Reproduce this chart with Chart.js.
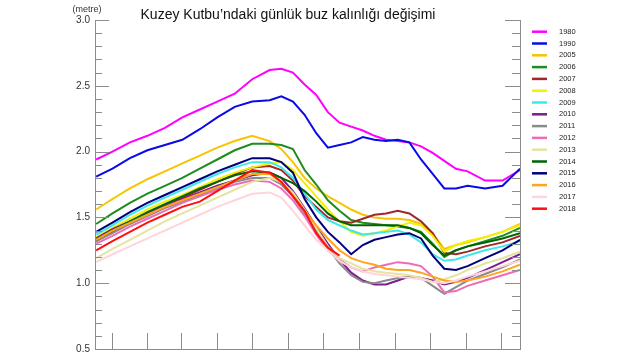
<!DOCTYPE html>
<html>
<head>
    <meta charset="utf-8">
    <title>Kuzey Kutbu’ndaki günlük buz kalınlığı değişimi</title>
    <script src="https://cdn.jsdelivr.net/npm/chart.js"></script>
    <style>
        html, body {
            margin: 0;
            padding: 0;
            background-color: #ffffff;
        }
        #wrap {
            position: relative;
            width: 640px;
            height: 360px;
        }
    </style>
</head>
<body>
    <div id="wrap">
        <canvas id="iceChart" width="640" height="360"></canvas>
    </div>
    <script>
        // day of year for each sample
        const days = [1, 15, 30, 45, 60, 75, 90, 105, 120, 135, 150, 160, 170, 180, 190, 200, 210, 220, 230, 240, 250, 260, 270, 280, 290, 300, 310, 320, 335, 350, 365];
        // mid-month tick positions on the x axis
        const monthTicks = [15, 45, 74, 105, 135, 166, 196, 227, 258, 288, 319, 349];

        const years = ["1980", "1990", "2005", "2006", "2007", "2008", "2009", "2010", "2011", "2012", "2013", "2014", "2015", "2016", "2017", "2018"];
        const colors = ["#ff00ff", "#0a0ae6", "#f7c400", "#1e8c1e", "#a3262a", "#f2f200", "#3ee8e8", "#7a1e8e", "#8a8a8a", "#f06ab6", "#e4e4a2", "#006400", "#00007c", "#ffa41e", "#ffd4da", "#ff1010"];

        // ice thickness (metre)
        const ice1980 = [1.94, 2.00, 2.07, 2.12, 2.18, 2.26, 2.32, 2.38, 2.44, 2.55, 2.62, 2.63, 2.60, 2.51, 2.43, 2.30, 2.22, 2.19, 2.16, 2.12, 2.09, 2.08, 2.07, 2.04, 1.99, 1.93, 1.87, 1.85, 1.78, 1.78, 1.86];
        const ice1990 = [1.81, 1.87, 1.95, 2.01, 2.05, 2.09, 2.17, 2.26, 2.34, 2.38, 2.39, 2.42, 2.38, 2.28, 2.14, 2.03, 2.05, 2.07, 2.11, 2.09, 2.08, 2.09, 2.07, 1.94, 1.83, 1.72, 1.72, 1.74, 1.72, 1.74, 1.87];
        const ice2005 = [1.56, 1.64, 1.72, 1.79, 1.85, 1.91, 1.97, 2.03, 2.08, 2.12, 2.08, 2.02, 1.92, 1.80, 1.72, 1.66, 1.61, 1.56, 1.52, 1.50, 1.49, 1.49, 1.48, 1.45, 1.38, 1.26, 1.29, 1.31, 1.35, 1.39, 1.45];
        const ice2006 = [1.45, 1.53, 1.61, 1.68, 1.74, 1.80, 1.87, 1.94, 2.01, 2.06, 2.06, 2.05, 2.02, 1.86, 1.75, 1.63, 1.55, 1.48, 1.46, 1.45, 1.44, 1.43, 1.42, 1.39, 1.30, 1.20, 1.25, 1.28, 1.32, 1.36, 1.42];
        const ice2007 = [1.32, 1.39, 1.46, 1.53, 1.59, 1.65, 1.71, 1.77, 1.83, 1.88, 1.89, 1.86, 1.78, 1.66, 1.58, 1.50, 1.47, 1.46, 1.49, 1.52, 1.53, 1.55, 1.53, 1.47, 1.38, 1.23, 1.22, 1.24, 1.28, 1.31, 1.36];
        const ice2008 = [1.35, 1.42, 1.49, 1.56, 1.62, 1.67, 1.73, 1.79, 1.84, 1.88, 1.91, 1.92, 1.86, 1.76, 1.66, 1.56, 1.47, 1.39, 1.36, 1.38, 1.40, 1.43, 1.46, 1.44, 1.36, 1.24, 1.29, 1.32, 1.35, 1.39, 1.44];
        const ice2009 = [1.37, 1.44, 1.52, 1.59, 1.65, 1.71, 1.77, 1.83, 1.88, 1.92, 1.92, 1.88, 1.80, 1.68, 1.56, 1.48, 1.44, 1.40, 1.37, 1.38, 1.39, 1.40, 1.37, 1.31, 1.22, 1.17, 1.18, 1.21, 1.25, 1.28, 1.32];
        const ice2010 = [1.34, 1.41, 1.47, 1.53, 1.59, 1.64, 1.69, 1.74, 1.78, 1.82, 1.84, 1.80, 1.70, 1.57, 1.43, 1.30, 1.18, 1.08, 1.02, 0.99, 0.99, 1.02, 1.05, 1.04, 1.02, 0.99, 1.01, 1.04, 1.10, 1.16, 1.22];
        const ice2011 = [1.32, 1.38, 1.45, 1.51, 1.57, 1.62, 1.67, 1.72, 1.77, 1.80, 1.80, 1.75, 1.66, 1.53, 1.40, 1.27, 1.15, 1.06, 1.01, 1.00, 1.02, 1.04, 1.05, 1.04, 0.98, 0.92, 0.97, 1.02, 1.07, 1.12, 1.18];
        const ice2012 = [1.30, 1.36, 1.43, 1.49, 1.55, 1.61, 1.66, 1.71, 1.75, 1.78, 1.77, 1.72, 1.63, 1.51, 1.37, 1.25, 1.18, 1.12, 1.09, 1.12, 1.14, 1.16, 1.15, 1.13, 1.05, 0.93, 0.94, 0.98, 1.02, 1.06, 1.10];
        const ice2013 = [1.19, 1.26, 1.33, 1.40, 1.47, 1.53, 1.59, 1.65, 1.71, 1.77, 1.80, 1.77, 1.69, 1.56, 1.42, 1.28, 1.19, 1.15, 1.11, 1.09, 1.08, 1.07, 1.06, 1.04, 1.01, 1.03, 1.06, 1.10, 1.15, 1.19, 1.24];
        const ice2014 = [1.33, 1.40, 1.47, 1.54, 1.60, 1.66, 1.72, 1.77, 1.82, 1.85, 1.84, 1.80, 1.76, 1.70, 1.62, 1.53, 1.47, 1.44, 1.44, 1.44, 1.44, 1.44, 1.42, 1.38, 1.29, 1.21, 1.25, 1.28, 1.31, 1.34, 1.38];
        const ice2015 = [1.39, 1.46, 1.54, 1.61, 1.67, 1.73, 1.79, 1.85, 1.90, 1.95, 1.95, 1.92, 1.84, 1.64, 1.50, 1.39, 1.31, 1.22, 1.29, 1.33, 1.35, 1.37, 1.38, 1.34, 1.21, 1.11, 1.10, 1.13, 1.19, 1.25, 1.33];
        const ice2016 = [1.33, 1.40, 1.46, 1.52, 1.58, 1.63, 1.68, 1.73, 1.78, 1.83, 1.83, 1.77, 1.67, 1.55, 1.44, 1.34, 1.25, 1.19, 1.16, 1.14, 1.11, 1.10, 1.10, 1.08, 1.05, 1.02, 1.01, 1.02, 1.05, 1.09, 1.14];
        const ice2017 = [1.16, 1.22, 1.28, 1.34, 1.40, 1.46, 1.52, 1.58, 1.63, 1.68, 1.69, 1.65, 1.55, 1.44, 1.33, 1.25, 1.17, 1.12, 1.09, 1.07, 1.06, 1.05, 1.04, 1.03, 1.01, 1.00, 1.02, 1.05, 1.09, 1.13, 1.17];
        const ice2018 = [1.25, 1.32, 1.39, 1.46, 1.52, 1.58, 1.62, 1.70, 1.78, 1.86, 1.84, 1.77, 1.66, 1.55, 1.38, 1.27, 1.21];

        const series = [ice1980, ice1990, ice2005, ice2006, ice2007, ice2008, ice2009, ice2010, ice2011, ice2012, ice2013, ice2014, ice2015, ice2016, ice2017, ice2018];

        const axisColor = "#8c8c8c";
        const titleText = "Kuzey Kutbu’ndaki günlük buz kalınlığı değişimi";

        // inner tick marks, right axis, title and the legend
        const framePlugin = {
            id: "framePlugin",
            afterDraw(chart) {
                const ctx = chart.ctx;
                const a = chart.chartArea;
                const xs = chart.scales.x;
                const ys = chart.scales.y;
                ctx.save();
                ctx.strokeStyle = axisColor;
                ctx.lineWidth = 1;
                ctx.beginPath();
                ctx.moveTo(Math.round(a.right) + 0.5, a.top);
                ctx.lineTo(Math.round(a.right) + 0.5, a.bottom);
                for (let v = 5; v <= 30; v++) {
                    const py = Math.round(ys.getPixelForValue(v / 10)) + 0.5;
                    const len = v % 5 === 0 ? 14 : 7;
                    ctx.moveTo(a.left, py);
                    ctx.lineTo(a.left + len, py);
                    ctx.moveTo(a.right, py);
                    ctx.lineTo(a.right - len - 1, py);
                }
                monthTicks.forEach(function (d) {
                    const px = Math.round(xs.getPixelForValue(d)) + 0.5;
                    ctx.moveTo(px, a.bottom);
                    ctx.lineTo(px, a.bottom - 16);
                });
                ctx.stroke();

                // title
                ctx.fillStyle = "#111111";
                ctx.font = "14px 'Liberation Sans', Arial, sans-serif";
                ctx.textAlign = "center";
                ctx.textBaseline = "alphabetic";
                ctx.fillText(titleText, 288, 18.5);

                // unit
                ctx.fillStyle = "#333333";
                ctx.font = "9px 'Liberation Sans', Arial, sans-serif";
                ctx.textBaseline = "middle";
                ctx.fillText("(metre)", 87, 9.5);

                // legend
                ctx.textAlign = "left";
                ctx.font = "7.5px 'Liberation Sans', Arial, sans-serif";
                chart.data.datasets.forEach(function (ds, i) {
                    const ly = 31.7 + i * 11.8;
                    ctx.strokeStyle = ds.borderColor;
                    ctx.lineWidth = 2.5;
                    ctx.beginPath();
                    ctx.moveTo(532, ly);
                    ctx.lineTo(547, ly);
                    ctx.stroke();
                    ctx.fillStyle = "#222222";
                    ctx.fillText(ds.label, 559, ly);
                });
                ctx.restore();
            }
        };

        const datasets = years.map(function (yr, i) {
            return {
                label: yr,
                data: series[i].map(function (v, j) { return { x: days[j], y: v }; }),
                borderColor: colors[i],
                backgroundColor: colors[i],
                borderWidth: 2,
                pointRadius: 0,
                tension: 0,
                fill: false,
                order: -i
            };
        });

        const ctx = document.getElementById("iceChart").getContext("2d");
        const iceChart = new Chart(ctx, {
            type: "line",
            data: { datasets: datasets },
            options: {
                responsive: false,
                animation: false,
                events: [],
                layout: {
                    padding: { left: 0, top: 20, right: 120, bottom: 11 }
                },
                plugins: {
                    legend: { display: false },
                    title: { display: false },
                    tooltip: { enabled: false }
                },
                scales: {
                    x: {
                        type: "linear",
                        min: 0,
                        max: 365,
                        grid: { display: false, drawTicks: false },
                        ticks: { display: false },
                        border: { display: true, color: axisColor, width: 1 },
                        afterFit: function (scale) { scale.height = 0; }
                    },
                    y: {
                        min: 0.5,
                        max: 3.0,
                        grid: { display: false, drawTicks: false },
                        border: { display: true, color: axisColor, width: 1 },
                        ticks: {
                            stepSize: 0.5,
                            padding: 5,
                            color: "#333333",
                            font: { family: "'Liberation Sans', Arial, sans-serif", size: 10 },
                            callback: function (v) { return v.toFixed(1); }
                        },
                        afterFit: function (scale) { scale.width = 95; }
                    }
                }
            },
            plugins: [framePlugin]
        });
    </script>
</body>
</html>
